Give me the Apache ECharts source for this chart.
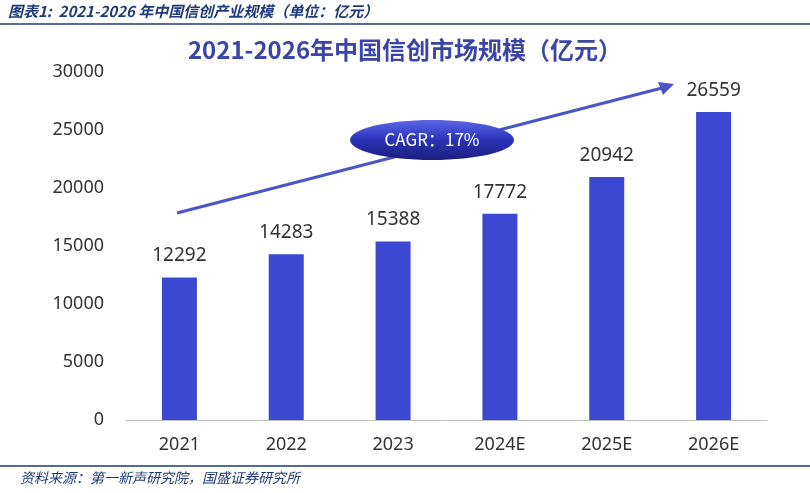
<!DOCTYPE html>
<html><head><meta charset="utf-8">
<script src="https://cdn.jsdelivr.net/npm/echarts@6/dist/echarts.min.js"></script>
<style>html,body{margin:0;padding:0;background:#fff}#c{width:810px;height:493px}</style>
</head><body><div id="c"></div>
<script>
const categories=['2021','2022','2023','2024E','2025E','2026E'];
const values=[12292,14283,15388,17772,20942,26559];
const yTicks=[0,5000,10000,15000,20000,25000,30000];
const chart=echarts.init(document.getElementById('c'));
chart.setOption({
  animation:false,
  grid:{left:126,right:43,top:72,bottom:73},
  xAxis:{type:'category',data:categories,axisTick:{show:false},
    axisLine:{lineStyle:{color:'#bfbfbf',width:1}},
    axisLabel:{color:'#333',fontSize:18,margin:16,fontFamily:'Noto Sans'}},
  yAxis:{type:'value',min:yTicks[0],max:yTicks[yTicks.length-1],interval:5000,
    splitLine:{show:false},axisLine:{show:false},
    axisLabel:{color:'#333',fontSize:18,margin:22,fontFamily:'Noto Sans',formatter:v=>String(v)}},
  series:[{type:'bar',data:values,barWidth:35,itemStyle:{color:'#3c48d2'},
    label:{show:true,position:'top',distance:12,color:'#333',fontSize:19,fontFamily:'Noto Sans'}}],
  graphic:[
    {type:'text',left:8,top:4,style:{text:'图表1:  2021-2026 年中国信创产业规模（单位：亿元）',fill:'#1f3a7a',font:'italic bold 15px "Noto Sans CJK SC"'}},
    {type:'line',shape:{x1:0,y1:24,x2:810,y2:24},style:{stroke:'#1f3a7a',lineWidth:1.5}},
    {type:'text',left:'center',top:38,style:{text:'2021-2026年中国信创市场规模（亿元）',fill:'#3a45a8',font:'bold 24px "Noto Sans CJK SC"'}},
    {type:'line',shape:{x1:177,y1:213,x2:662,y2:88},style:{stroke:'#4a55c8',lineWidth:3}},
    {type:'polygon',shape:{points:[[674,84],[658,82],[663,95]]},style:{fill:'#4a55c8'}},
    {type:'ellipse',shape:{cx:432,cy:140,rx:82,ry:20},style:{fill:new echarts.graphic.LinearGradient(0,0,0,1,[{offset:0,color:'#5a66e8'},{offset:0.5,color:'#2b33b8'},{offset:1,color:'#1a1f7a'}])}},
    {type:'text',x:432,y:140,style:{text:'CAGR：17%',fill:'#fff',font:'17px "Noto Sans CJK SC"',align:'center',verticalAlign:'middle'}},
    {type:'line',shape:{x1:0,y1:466,x2:810,y2:466},style:{stroke:'#1f3a7a',lineWidth:1.5}},
    {type:'text',left:20,top:471,style:{text:'资料来源：第一新声研究院，国盛证券研究所',fill:'#1f3a7a',font:'italic 14px "Noto Sans CJK SC"'}}
  ]
});
</script></body></html>
